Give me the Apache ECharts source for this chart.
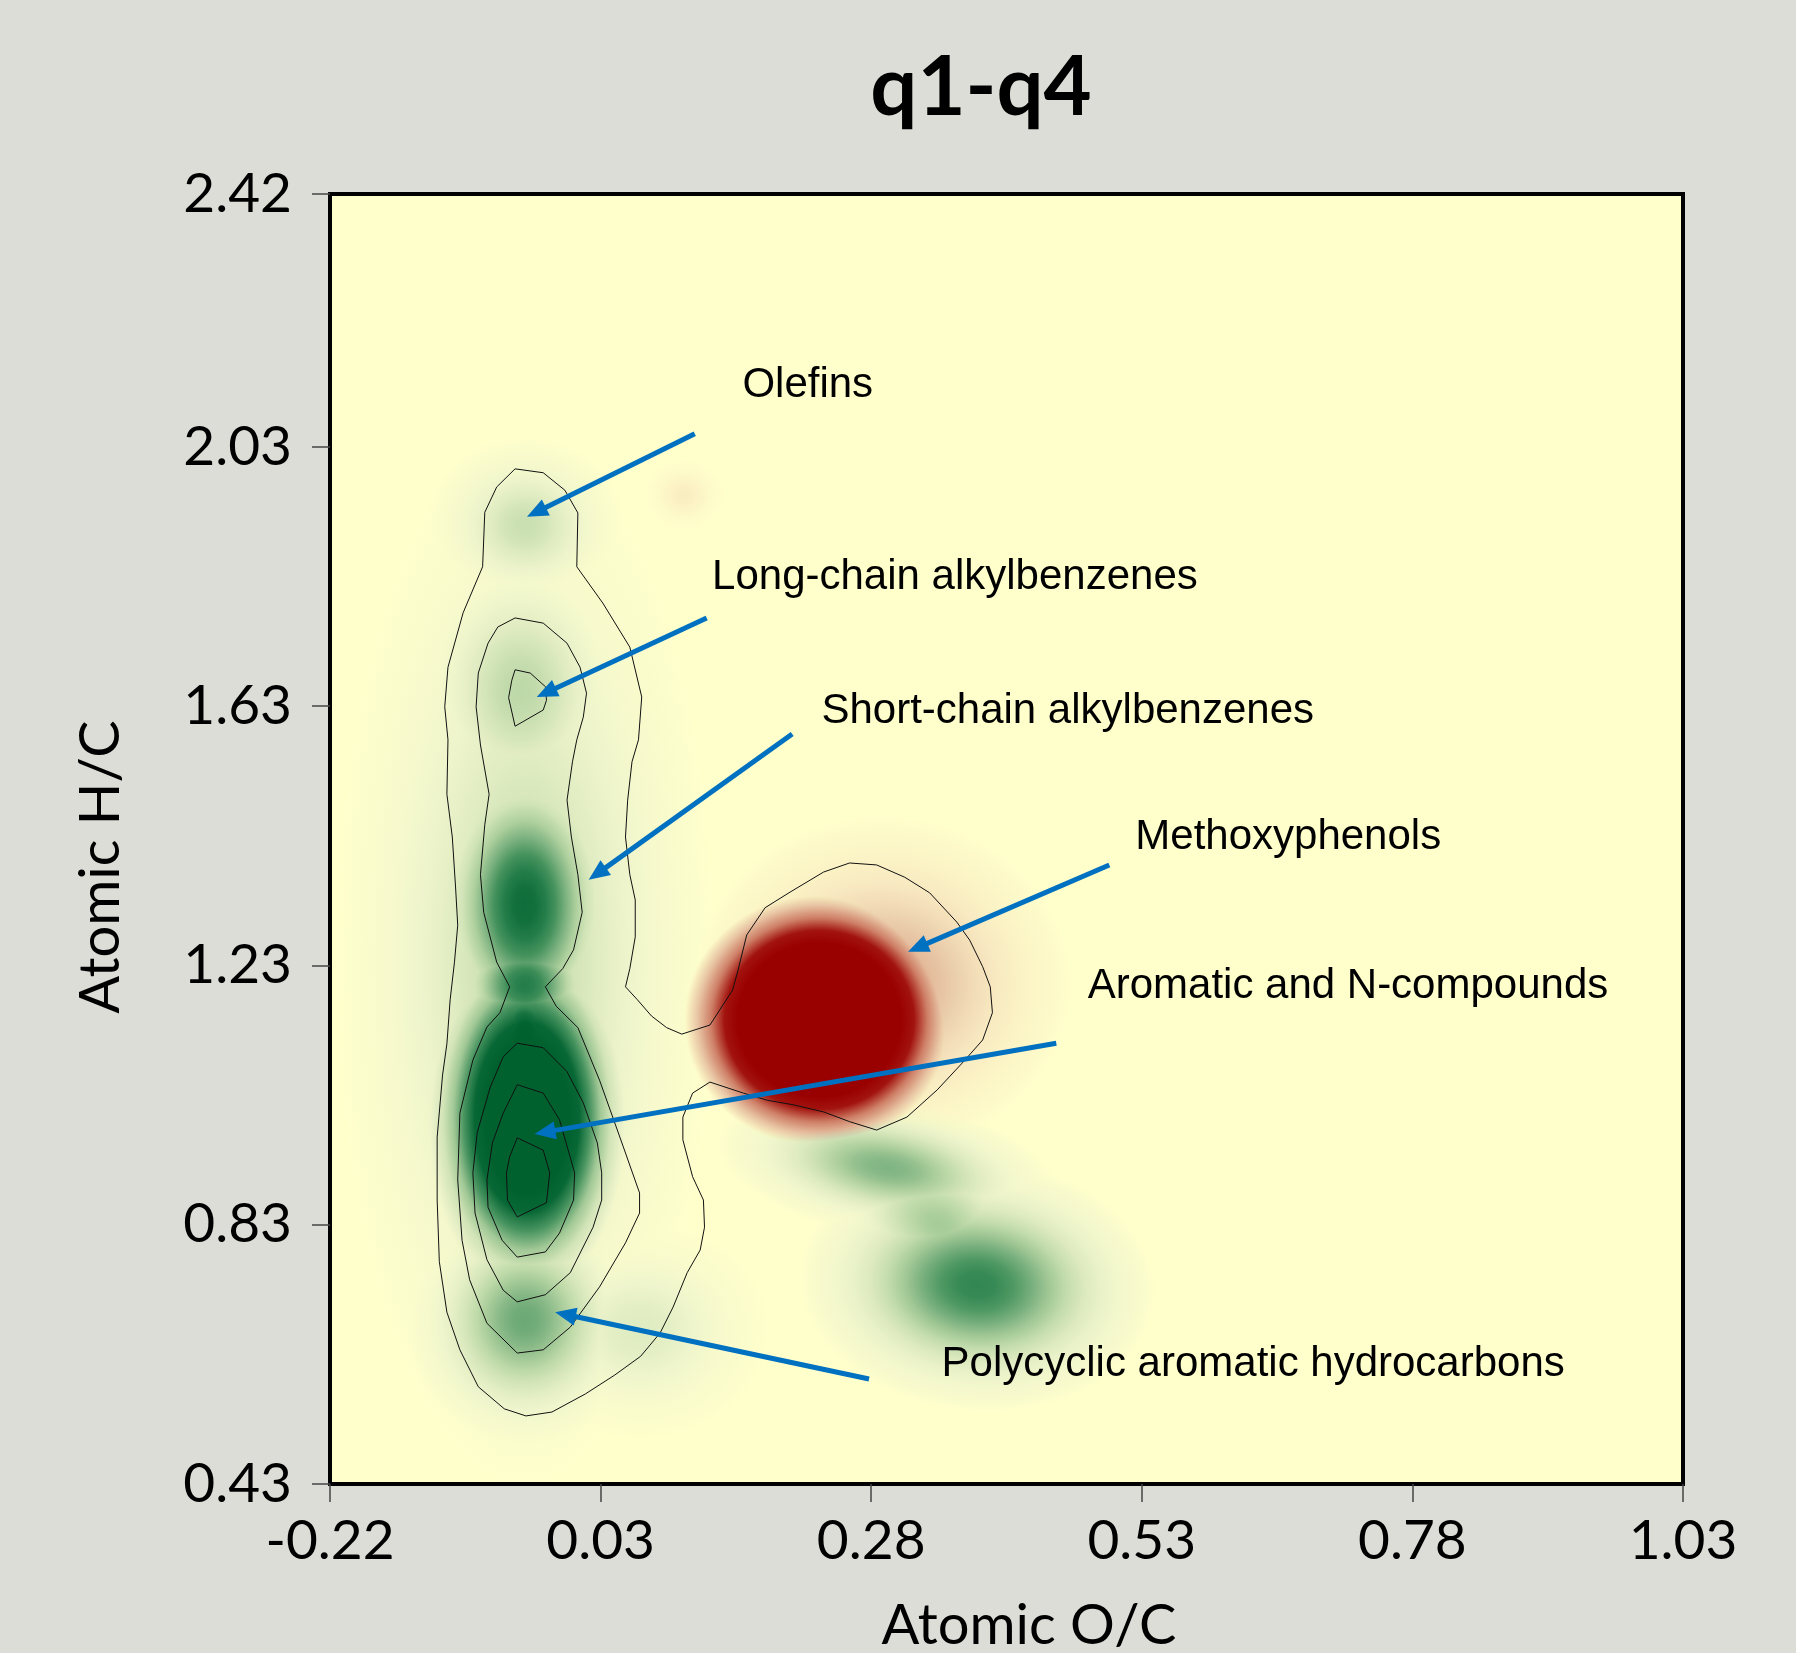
<!DOCTYPE html>
<html><head><meta charset="utf-8">
<script src="https://cdn.jsdelivr.net/npm/echarts@6/dist/echarts.min.js"></script>
<style>html,body{margin:0;padding:0;background:#DDDDD8}#chart{width:1796px;height:1653px}</style>
</head><body><div id="chart"></div>
<script>
// ---- axis ticks ----
const xTicks = [-0.22, 0.03, 0.28, 0.53, 0.78, 1.03];
const yTicks = [0.43, 0.83, 1.23, 1.63, 2.03, 2.42];

// ---- density features ----
// centre O/C, centre H/C, spread O/C, spread H/C, level (+ green, - red), tilt (deg)
const blobOC     = [-0.040, 0.066, -0.040, -0.044, -0.040, -0.040, -0.040, -0.038, -0.040, 0.295, 0.343, 0.378, 0.290, 0.232, 0.107];
const blobHC     = [ 1.238, 0.668,  1.909,  1.655,  1.323,  1.200,  1.115,  0.996,  0.683, 0.918, 0.830, 0.737, 1.200, 1.146, 1.956];
const blobSprOC  = [ 0.175, 0.120,  0.092,  0.108,  0.095,  0.079,  0.055,  0.097,  0.111, 0.160, 0.120, 0.165, 0.176, 0.125, 0.037];
const blobSprHC  = [ 0.820, 0.170,  0.139,  0.240,  0.260,  0.123,  0.139,  0.293,  0.200, 0.110, 0.139, 0.195, 0.262, 0.197, 0.054];
const blobLevel  = [ 0.36,  0.24,   0.33,   0.38,   0.9,    0.8,    1.1,    2.0,    0.6,   0.55,  0.45,  0.75, -0.42,  -3.5,  -0.12];
const blobTilt   = [ 0,     0,      0,      0,      0,      0,      0,      0,      0,    -10,   -30,   -5,     0,      0,     0];

// ---- contour lines (O/C, H/C) ----
const contourOuter = [[-0.049,1.996],[-0.023,1.990],[-0.003,1.963],[0.009,1.928],[0.008,1.845],[0.032,1.789],[0.057,1.721],[0.068,1.644],[0.065,1.578],[0.059,1.544],[0.055,1.485],[0.053,1.428],[0.057,1.370],[0.062,1.331],[0.062,1.274],[0.057,1.225],[0.053,1.197],[0.064,1.177],[0.077,1.152],[0.091,1.134],[0.105,1.124],[0.131,1.138],[0.152,1.192],[0.157,1.223],[0.165,1.277],[0.182,1.319],[0.205,1.343],[0.236,1.374],[0.260,1.388],[0.285,1.385],[0.311,1.366],[0.334,1.342],[0.359,1.297],[0.371,1.269],[0.383,1.228],[0.390,1.197],[0.392,1.157],[0.383,1.115],[0.365,1.081],[0.341,1.038],[0.313,0.996],[0.285,0.976],[0.260,0.989],[0.236,1.004],[0.208,1.015],[0.184,1.022],[0.162,1.033],[0.131,1.050],[0.115,1.033],[0.106,0.996],[0.106,0.961],[0.115,0.904],[0.125,0.868],[0.126,0.826],[0.122,0.791],[0.110,0.756],[0.097,0.703],[0.085,0.663],[0.067,0.627],[0.043,0.598],[0.016,0.569],[-0.015,0.541],[-0.039,0.535],[-0.059,0.546],[-0.083,0.580],[-0.100,0.637],[-0.112,0.695],[-0.119,0.773],[-0.121,0.868],[-0.121,0.965],[-0.116,1.061],[-0.112,1.109],[-0.109,1.177],[-0.105,1.235],[-0.102,1.292],[-0.104,1.351],[-0.107,1.428],[-0.112,1.494],[-0.111,1.578],[-0.114,1.629],[-0.111,1.690],[-0.097,1.774],[-0.079,1.845],[-0.077,1.929],[-0.066,1.968]];
const contourSecond = [[-0.049,1.766],[-0.023,1.758],[-0.001,1.727],[0.011,1.690],[0.017,1.650],[0.014,1.613],[0.008,1.578],[0.004,1.544],[-0.001,1.485],[0.003,1.428],[0.009,1.370],[0.013,1.312],[0.005,1.254],[-0.005,1.225],[-0.021,1.197],[-0.011,1.167],[0.009,1.134],[0.029,1.053],[0.051,0.950],[0.066,0.879],[0.066,0.848],[0.053,0.802],[0.029,0.734],[0.002,0.672],[-0.023,0.637],[-0.047,0.632],[-0.075,0.678],[-0.091,0.745],[-0.098,0.806],[-0.102,0.899],[-0.100,1.002],[-0.088,1.084],[-0.075,1.135],[-0.063,1.157],[-0.054,1.197],[-0.066,1.235],[-0.078,1.312],[-0.081,1.370],[-0.077,1.447],[-0.073,1.494],[-0.081,1.570],[-0.085,1.629],[-0.083,1.681],[-0.074,1.727],[-0.065,1.752]];
const contourThirdTop = [[-0.049,1.686],[-0.035,1.681],[-0.021,1.660],[-0.020,1.639],[-0.023,1.624],[-0.049,1.599],[-0.055,1.643],[-0.052,1.670]];
const contourThird = [[-0.047,1.110],[-0.023,1.103],[-0.001,1.066],[0.014,1.018],[0.027,0.956],[0.031,0.910],[0.031,0.868],[0.023,0.826],[0.002,0.756],[-0.021,0.722],[-0.047,0.711],[-0.060,0.729],[-0.075,0.776],[-0.086,0.848],[-0.088,0.910],[-0.084,0.972],[-0.072,1.042],[-0.060,1.089]];
const contourFourth = [[-0.047,1.046],[-0.023,1.033],[-0.008,0.992],[0.006,0.910],[0.005,0.868],[-0.008,0.817],[-0.021,0.788],[-0.047,0.780],[-0.061,0.806],[-0.074,0.857],[-0.075,0.899],[-0.070,0.956],[-0.060,1.002]];
const contourFifth = [[-0.047,0.964],[-0.023,0.945],[-0.017,0.910],[-0.020,0.864],[-0.047,0.842],[-0.056,0.868],[-0.057,0.910],[-0.054,0.935]];

// ---- annotations ----
const labelText = ['Olefins','Long-chain alkylbenzenes','Short-chain alkylbenzenes','Methoxyphenols','Aromatic and N-compounds','Polycyclic aromatic hydrocarbons'];
const labelOC = [0.161, 0.133, 0.234, 0.524, 0.480, 0.345];
const labelHC = [2.125, 1.829, 1.622, 1.428, 1.198, 0.615];
const arrowTailOC = [0.117, 0.128, 0.207, 0.500, 0.451, 0.278];
const arrowTailHC = [2.050, 1.766, 1.587, 1.385, 1.110, 0.592];
const arrowTipOC  = [-0.038, -0.029, 0.019, 0.314, -0.031, -0.012];
const arrowTipHC  = [1.922, 1.644, 1.362, 1.251, 0.970, 0.695];

// ---- colour ramps ----
const greenRamp = [[0,'#FFFFCC'],[0.15,'#EEF4CC'],[0.25,'#DDEAC0'],[0.4,'#B8D6A4'],[0.55,'#7FB482'],[0.7,'#3F8F5A'],[0.85,'#157340'],[1,'#00612F']];
const redRamp = [[0,'#FFFFCC'],[0.15,'#F8E8C0'],[0.25,'#EDD3B0'],[0.4,'#DFAE90'],[0.55,'#C9705A'],[0.7,'#B02D22'],[0.85,'#9C0805'],[1,'#990000']];
function hex(h){return [parseInt(h.slice(1,3),16),parseInt(h.slice(3,5),16),parseInt(h.slice(5,7),16)];}
function ramp(r, v){
  v = Math.max(0, Math.min(1, v));
  for (let i=1;i<r.length;i++){
    if (v <= r[i][0]){
      const a=hex(r[i-1][1]), b=hex(r[i][1]);
      const t=(v-r[i-1][0])/(r[i][0]-r[i-1][0]);
      return 'rgb('+a.map((c,k)=>Math.round(c+(b[k]-c)*t)).join(',')+')';
    }
  }
  return r[r.length-1][1];
}

const blobData = blobOC.map((v,i)=>[v, blobHC[i], blobSprOC[i], blobSprHC[i], blobLevel[i], blobTilt[i]]);
const arrowData = arrowTailOC.map((v,i)=>[v, arrowTailHC[i], arrowTipOC[i], arrowTipHC[i]]);
const labelData = labelOC.map((v,i)=>[v, labelHC[i]]);

function closed(a){ return a.concat([a[0]]); }
const contourStyle = {color:'#111', width:1};
function contourSeries(d){
  return {type:'line', data: closed(d), showSymbol:false, symbol:'none', smooth:false, lineStyle: contourStyle, silent:true, z:3};
}

const chart = echarts.init(document.getElementById('chart'), null, {renderer:'canvas'});
chart.setOption({
  backgroundColor:'#DDDDD8',
  animation:false,
  grid:{left:330, top:194, width:1353, height:1290, show:true, backgroundColor:'#FFFFCC', borderColor:'#000', borderWidth:4, containLabel:false},
  xAxis:{type:'value', min:-0.22, max:1.03,
    axisLine:{show:true, onZero:false, lineStyle:{color:'#000', width:4}},
    axisTick:{show:true, length:18, lineStyle:{color:'#444', width:1.5}, customValues:xTicks},
    axisLabel:{customValues:xTicks, formatter:v=>v.toFixed(2), fontFamily:'Lato', fontSize:55, color:'#000', margin:30},
    splitLine:{show:false}},
  yAxis:{type:'value', min:0.43, max:2.42,
    axisLine:{show:true, onZero:false, lineStyle:{color:'#000', width:4}},
    axisTick:{show:true, length:18, lineStyle:{color:'#444', width:1.5}, customValues:yTicks},
    axisLabel:{customValues:yTicks, formatter:v=>v.toFixed(2), fontFamily:'Lato', fontSize:55, color:'#000', margin:38},
    splitLine:{show:false}},
  graphic:[
    {type:'text', x:981, y:88, style:{text:'q1-q4', font:'bold 83px Lato', fill:'#000', align:'center', verticalAlign:'middle'}},
    {type:'text', x:1029, y:1626, style:{text:'Atomic O/C', font:'56px Lato', fill:'#000', align:'center', verticalAlign:'middle'}},
    {type:'text', x:101, y:867, rotation:Math.PI/2, style:{text:'Atomic H/C', font:'56px Lato', fill:'#000', align:'center', verticalAlign:'middle'}}
  ],
  series:[
    {type:'custom', id:'density', data: blobData, clip:true, silent:true, z:1,
      renderItem:function(params, api){
        const c = api.coord([api.value(0), api.value(1)]);
        const s = api.size([api.value(2), api.value(3)]);
        const lvl = api.value(4);
        const r = lvl >= 0 ? greenRamp : redRamp;
        const peak = Math.abs(lvl);
        const stops = [];
        for (let k=0;k<=10;k++){
          const t = k/10;
          const L = k===10 ? 0 : peak*Math.exp(-3*t*t);
          stops.push({offset:t, color: ramp(r, L)});
        }
        return {type:'circle', name:'blob', x:c[0], y:c[1], rotation: api.value(5)*Math.PI/180,
          scaleX:1, scaleY: s[1]/s[0],
          shape:{cx:0, cy:0, r:s[0]},
          style:{fill: new echarts.graphic.RadialGradient(0.5,0.5,0.5,stops), blend:'darken'}};
      }},
    contourSeries(contourOuter),
    contourSeries(contourSecond),
    contourSeries(contourThirdTop),
    contourSeries(contourThird),
    contourSeries(contourFourth),
    contourSeries(contourFifth),
    {type:'custom', data: arrowData, silent:true, z:5, clip:false,
      renderItem:function(params, api){
        const a = api.coord([api.value(0), api.value(1)]);
        const b = api.coord([api.value(2), api.value(3)]);
        const dx=b[0]-a[0], dy=b[1]-a[1], len=Math.hypot(dx,dy), ux=dx/len, uy=dy/len;
        const hl=21, hw=9;
        const bx=b[0]-ux*hl, by=b[1]-uy*hl;
        return {type:'group', children:[
          {type:'line', shape:{x1:a[0], y1:a[1], x2:bx+ux*3, y2:by+uy*3}, style:{stroke:'#0070C0', lineWidth:5}},
          {type:'polygon', shape:{points:[[b[0],b[1]],[bx-uy*hw,by+ux*hw],[bx+uy*hw,by-ux*hw]]}, style:{fill:'#0070C0'}}
        ]};
      }},
    {type:'custom', data: labelData, silent:true, z:6, clip:false,
      renderItem:function(params, api){
        const p = api.coord([api.value(0), api.value(1)]);
        return {type:'text', x:p[0], y:p[1], style:{text: labelText[params.dataIndex], font:'42px "Liberation Sans"', fill:'#000', align:'left', verticalAlign:'middle'}};
      }}
  ]
});
// make overlapping density blobs combine (keep the darker colour) instead of painting over each other
(function applyBlend(){
  const zr = chart.getZr();
  zr.storage.getDisplayList(true).forEach(function(el){
    if (el.type === 'circle' && el.style && el.style.fill && el.style.fill.type === 'radial') {
      el.style.blend = 'darken';
      el.markRedraw();
    }
  });
  zr.refreshImmediately();
})();
</script>
</body></html>
